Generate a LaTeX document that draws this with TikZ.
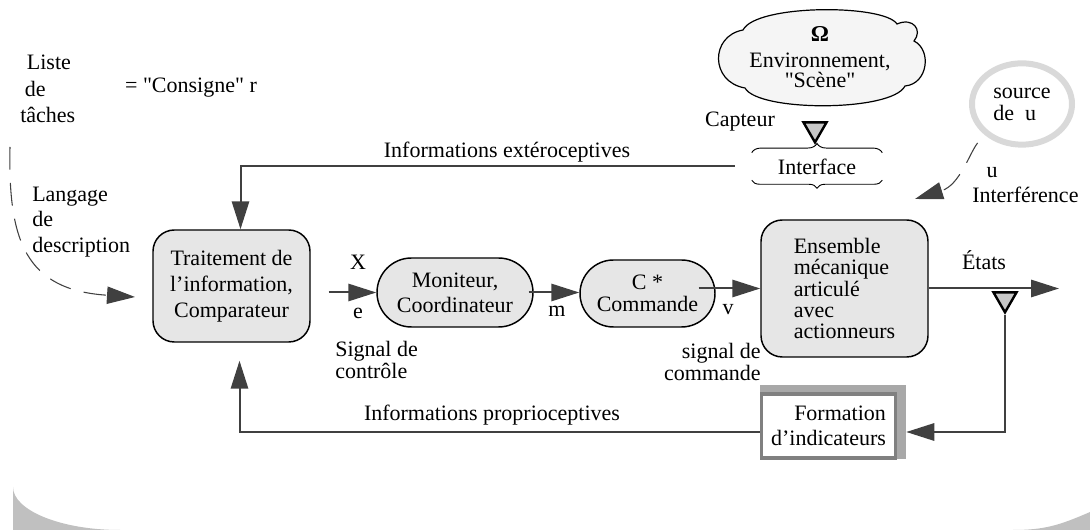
\documentclass[tikz,border=0pt]{standalone}
\usepackage{fontspec}
\setmainfont{Liberation Serif}
% same face without TeX input ligatures, for straight double quotes
\newfontfamily\qfont{Liberation Serif}
\newcommand{\q}{{\qfont"}}
\usetikzlibrary{arrows.meta,shapes.geometric,shapes.misc,decorations.pathreplacing,calc}
\definecolor{ink}{HTML}{404040}
\definecolor{boxfill}{HTML}{E6E6E6}
\definecolor{sensorfill}{HTML}{C8C8C8}
\definecolor{ringgray}{HTML}{D9D9D9}
\definecolor{shadowgray}{HTML}{A8A8A8}
\definecolor{formgray}{HTML}{808080}
\definecolor{cloudfill}{HTML}{F5F5F5}
\definecolor{bandgray}{HTML}{C0C0C0}
\newcommand{\fs}[1]{\fontsize{16.5pt}{#1}\selectfont}
\begin{document}
\begin{tikzpicture}[x=0.75pt,y=-0.75pt,
  every node/.style={font=\fs{19pt}, inner sep=0pt},
  wire/.style={draw=ink, line width=1.5pt},
  tip/.style={-{Triangle[length=21pt,width=13pt]}},
  dwire/.style={draw=ink, line width=0.8pt, dash pattern=on 17pt off 10pt},
  blk/.style={draw=black, fill=boxfill, line width=1.1pt, rounded corners=16pt, align=center},
  pill/.style={rounded rectangle, draw=black, fill=boxfill, line width=1.1pt, align=center},
  sensor/.style={regular polygon, regular polygon sides=3, shape border rotate=180,
    draw=black, fill=sensorfill, line width=1.8pt, minimum size=20pt, inner sep=0pt},
  bracestyle/.style={draw=black, line width=0.7pt, decorate},
]
\useasboundingbox (0,0) rectangle (1090,530);

% grey band along the bottom edge
\fill[bandgray] (13,487) .. controls (13,510) and (60,530) .. (120,530) -- (13,530) -- cycle;
\fill[bandgray] (1090,512) .. controls (1060,525) and (1045,530) .. (1013,530) -- (1090,530) -- cycle;

% task list and reference input
\node (liste) [anchor=west, align=left, font=\fs{20pt}] at (20,89)
  {\hspace{5pt}Liste\\\hspace{3.5pt}de\\tâches};
\node (consigne) at (191,88) {= \q Consigne\q{} r};
\node (langage) [anchor=west, align=left, font=\fs{19pt}] at (32,222)
  {Langage\\de\\description};

% main blocks
\node (trait) [blk, minimum width=117.75pt, minimum height=84pt, font=\fs{19.5pt}]
  at (231.5,286) {Traitement de\\l’information,\\Comparateur};
\node (mon) [pill, minimum width=117pt, minimum height=51.75pt, font=\fs{18.75pt}]
  at (455,292.5) {Moniteur,\\Coordinateur};
\node (cmd) [pill, minimum width=101.25pt, minimum height=50.25pt, font=\fs{16.5pt}]
  at (647.5,293.5) {C *\\Commande};
\node (ens) [blk, align=left, minimum width=125.25pt, minimum height=102.75pt, font=\fs{16pt}]
  at (844.5,288.5) {Ensemble\\mécanique\\articulé\\avec\\actionneurs};

% indicator block with its offset shadow
\node (fsh) [fill=shadowgray, minimum width=109.5pt, minimum height=55.5pt] at (833,422) {};
\node (form) [draw=formgray, fill=white, line width=2.4pt, align=right,
  minimum width=101pt, minimum height=48pt] at (828.5,426) {Formation\\d’indicateurs};

% environment cloud
\draw[fill=cloudfill, draw=black, line width=0.9pt]
  (743,30) .. controls (756,4) and (884,4) .. (897,24)
  .. controls (913,17) and (923,30) .. (914,41)
  .. controls (932,50) and (928,84) .. (905,86)
  .. controls (892,112) and (758,112) .. (745,88)
  .. controls (710,82) and (710,36) .. (743,30) -- cycle;
\node (env) [align=center, font=\fs{15pt}] at (820,57)
  {{\fontsize{17pt}{17pt}\selectfont\bfseries Ω}\\[5pt]Environnement,\\\q Scène\q};

% sensor and interface
\node (capteur) at (740,122) {Capteur};
\node (tri1) [sensor] at (815,129) {};
\node (iface) [minimum width=97.5pt, minimum height=20.25pt] at (817,166.5) {Interface};
\draw[bracestyle, decoration={brace, amplitude=7pt}] (iface.north west) -- (iface.north east);
\draw[bracestyle, decoration={brace, amplitude=6pt}] (iface.south east) -- (iface.south west);

% disturbance source
\node (src) [ellipse, draw=ringgray, line width=4.5pt, minimum width=75pt, minimum height=61pt,
  align=left, font=\fs{16.5pt}] at (1022,104) {source\\de\ \ u};
\coordinate (interf) at (915,199);
\node (ulab) at (992,173) {u};
\node (interflab) [anchor=west] at (972,195) {Interférence};

% signal labels
\node (xlab) at (358,262) {X};
\node (elab) at (358,313) {e};
\node (mlab) at (557,311) {m};
\node (vlab) at (728,310) {v};
\node (sigc) [anchor=west, align=left, font=\fs{15pt}] at (335,360) {Signal de\\contrôle};
\node (sigm) [anchor=east, align=right, font=\fs{15pt}] at (761,362) {signal de\\commande};
\node (etats) at (984,260) {États};
\node (extero) at (507,152) {Informations extéroceptives};
\node (proprio) at (492,415) {Informations proprioceptives};

% state output and its sensor
\coordinate (out) at (1059,288.5);
\node (tri2) [sensor] at (1005,299) {};

% forward chain
\draw[wire,tip] ($(trait.east |- mon.west)+(18,0)$) -- (mon.west);
\draw[wire,tip] ($(mon.east)+(-5,0)$) -- (cmd.west |- mon.east);
\draw[wire,tip] ($(cmd.east |- ens.west)+(-17,0)$) -- (ens.west);
\draw[wire,tip] (ens.east) -- (out);

% feedback loops
\draw[wire,tip] (tri2.south) |- ($(fsh.east)+(0,10)$);
\draw[wire,tip] ($(form.west)+(0,6)$) -| ($(trait.south)+(8,18)$);
\draw[wire,tip] ($(iface.west)+(-17,0)$) -| ($(trait.north)+(9,0)$);

% dashed influences
\coordinate (lstart) at (10,147);
\coordinate (lend) at (135,297);
\draw[dwire,tip] (lstart) .. controls (8,240) and (25,290) .. (lend);
\draw[dwire,tip,shorten <=8pt] (src.south west) .. controls (970,152) and (960,185) .. (interf);
\end{tikzpicture}
\end{document}
